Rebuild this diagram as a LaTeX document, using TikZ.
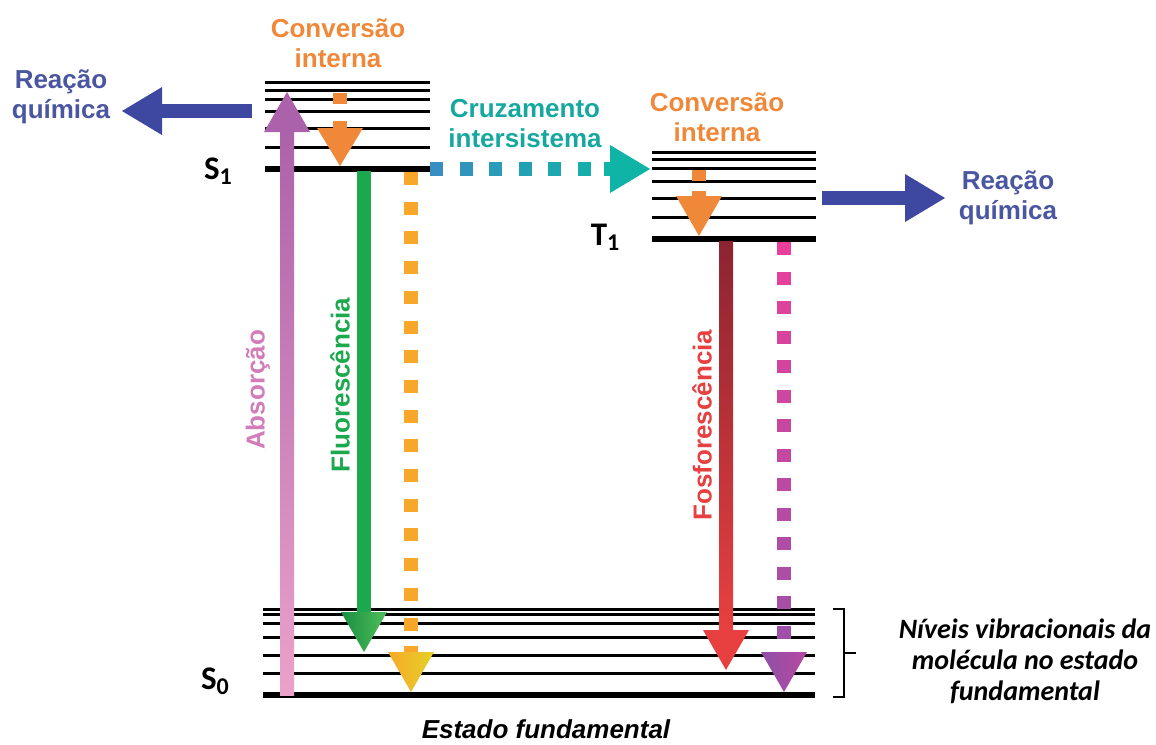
\documentclass[tikz,border=0pt]{standalone}
\usepackage{fontspec}
\setmainfont{Liberation Sans}
\newfontfamily\calibri{Carlito}
\usetikzlibrary{calc}

\definecolor{absTop}{RGB}{172,98,170}
\definecolor{absBot}{RGB}{234,162,202}
\definecolor{absText}{RGB}{210,125,185}
\definecolor{fluoGreen}{RGB}{28,168,76}
\definecolor{fluoLight}{RGB}{80,190,90}
\definecolor{icOrange}{RGB}{240,136,58}
\definecolor{dotOrange}{RGB}{247,168,42}
\definecolor{dotYellow}{RGB}{228,210,40}
\definecolor{iscBlue}{RGB}{54,142,194}
\definecolor{iscTeal}{RGB}{16,180,166}
\definecolor{iscText}{RGB}{22,168,158}
\definecolor{phosDark}{RGB}{140,36,48}
\definecolor{phosRed}{RGB}{232,64,64}
\definecolor{dotPink}{RGB}{232,64,154}
\definecolor{dotPurple}{RGB}{160,80,168}
\definecolor{headPurple}{RGB}{142,80,168}
\definecolor{headMagenta}{RGB}{184,72,160}
\definecolor{rxBlue}{RGB}{62,72,160}
\definecolor{rxText}{RGB}{74,86,160}

\newcommand{\sublbl}[1]{\raisebox{-2.5pt}{\fontsize{12}{12}\selectfont #1}}

\begin{document}
\begin{tikzpicture}[x=0.5pt, y=-0.5pt,
  level/.style={line width=1.5pt},
  ground/.style={line width=3pt},
  lbl/.style={font=\bfseries\fontsize{13}{15}\selectfont, align=center, inner sep=0pt},
  statelbl/.style={font=\calibri\bfseries\fontsize{16.5}{18}\selectfont, inner sep=0pt}
]
\useasboundingbox (0,0) rectangle (1156,744);

% vibrational levels of S1, T1 and S0
\foreach \y in {82,90,99,111,128,147} \draw[level] (265,\y) -- (430,\y);
\draw[ground] (265,169) -- (430,169);
\foreach \y in {152,159,168,181,198,217} \draw[level] (652,\y) -- (816,\y);
\draw[ground] (652,239) -- (816,239);
\foreach \y in {609,614,623,637,655,673} \draw[level] (263,\y) -- (815,\y);
\draw[ground] (263,695) -- (815,695);

\node[statelbl] (s1-lbl) at (218,171) {S\sublbl{1}};
\node[statelbl] (t1-lbl) at (605,237) {T\sublbl{1}};
\node[statelbl] (s0-lbl) at (215,681) {S\sublbl{0}};

% absorption
\coordinate (abs0) at (287,695);
\coordinate (abs1) at (287,92);
\shade[bottom color=absBot, top color=absTop] ($(abs0)+(-7,0)$) rectangle ($(abs1)+(7,40)$);
\fill[absTop] ($(abs1)+(-23,40)$) -- ($(abs1)+(23,40)$) -- (abs1) -- cycle;
\node[lbl, text=absText, rotate=90] (abs-txt) at (258,390) {Absorção};

% internal conversion in S1
\coordinate (ic1a) at (340,93);
\coordinate (ic1b) at (340,166);
\fill[icOrange] ($(ic1a)+(-7,0)$) rectangle ++(14,11);
\fill[icOrange] ($(ic1b)+(-7,-45)$) rectangle ($(ic1b)+(7,-38)$);
\fill[icOrange] ($(ic1b)+(-23,-38)$) -- ($(ic1b)+(23,-38)$) -- (ic1b) -- cycle;
\node[lbl, text=icOrange] (ic1-txt) at (338,43) {Conversão\\interna};

% fluorescence
\coordinate (flu0) at (364,171);
\coordinate (flu1) at (364,652);
\fill[fluoGreen] ($(flu0)+(-7,0)$) rectangle ($(flu1)+(7,-40)$);
\shade[left color=fluoGreen!85!black, right color=fluoLight] ($(flu1)+(-23,-40)$) -- ($(flu1)+(23,-40)$) -- (flu1) -- cycle;
\node[lbl, text=fluoGreen, rotate=90] (flu-txt) at (340,385) {Fluorescência};

% non-radiative decay S1 -> S0
\coordinate (orn0) at (411,172);
\coordinate (orn1) at (411,692);
\foreach \i in {0,...,15} \fill[dotOrange] ($(orn0)+(-7,29.7*\i)$) rectangle ++(14,13);
\fill[dotOrange] ($(orn1)+(-7,-46)$) rectangle ($(orn1)+(7,-40)$);
\shade[left color=dotOrange, right color=dotYellow] ($(orn1)+(-23,-40)$) -- ($(orn1)+(23,-40)$) -- (orn1) -- cycle;

% intersystem crossing
\coordinate (isc0) at (430,169);
\coordinate (isc1) at (650,169);
\foreach \i in {0,...,5}{
  \pgfmathtruncatemacro\p{100*\i/6}
  \fill[iscTeal!\p!iscBlue] ($(isc0)+(29.5*\i,-7)$) rectangle ++(13,14);
}
\fill[iscTeal] ($(isc1)+(-46,-7)$) rectangle ($(isc1)+(-40,7)$);
\fill[iscTeal] ($(isc1)+(-40,-24)$) -- ($(isc1)+(-40,24)$) -- (isc1) -- cycle;
\node[lbl, text=iscText] (isc-txt) at (525,124) {Cruzamento\\intersistema};

% internal conversion in T1
\coordinate (ic2a) at (699,170);
\coordinate (ic2b) at (699,236);
\fill[icOrange] ($(ic2a)+(-7,0)$) rectangle ++(14,11);
\fill[icOrange] ($(ic2b)+(-7,-45)$) rectangle ($(ic2b)+(7,-40)$);
\fill[icOrange] ($(ic2b)+(-23,-40)$) -- ($(ic2b)+(23,-40)$) -- (ic2b) -- cycle;
\node[lbl, text=icOrange] (ic2-txt) at (717,117) {Conversão\\interna};

% phosphorescence
\coordinate (pho0) at (726,241);
\coordinate (pho1) at (726,670);
\shade[top color=phosDark, bottom color=phosRed] ($(pho0)+(-7,0)$) rectangle ($(pho1)+(7,-40)$);
\fill[phosRed] ($(pho1)+(-23,-40)$) -- ($(pho1)+(23,-40)$) -- (pho1) -- cycle;
\node[lbl, text=phosRed, rotate=90] (pho-txt) at (702,425) {Fosforescência};

% non-radiative decay T1 -> S0
\coordinate (pnk0) at (784,242);
\coordinate (pnk1) at (784,692);
\foreach \i in {0,...,13}{
  \pgfmathtruncatemacro\p{100*\i/13}
  \fill[dotPurple!\p!dotPink] ($(pnk0)+(-7,29.5*\i)$) rectangle ++(14,13);
}
\shade[left color=headPurple, right color=headMagenta] ($(pnk1)+(-23,-40)$) -- ($(pnk1)+(23,-40)$) -- (pnk1) -- cycle;

% chemical reactions
\coordinate (rx1a) at (252,111);
\coordinate (rx1b) at (122,111);
\fill[rxBlue] ($(rx1a)+(0,-7)$) rectangle ($(rx1b)+(40,7)$);
\fill[rxBlue] ($(rx1b)+(40,-24)$) -- ($(rx1b)+(40,24)$) -- (rx1b) -- cycle;
\node[lbl, text=rxText] (rx1-txt) at (61,97) {Reação\\química};

\coordinate (rx2a) at (822,198);
\coordinate (rx2b) at (945,198);
\fill[rxBlue] ($(rx2a)+(0,-7)$) rectangle ($(rx2b)+(-40,7)$);
\fill[rxBlue] ($(rx2b)+(-40,-24)$) -- ($(rx2b)+(-40,24)$) -- (rx2b) -- cycle;
\node[lbl, text=rxText] (rx2-txt) at (1008,198) {Reação\\química};

% ground state
\draw[line width=1pt] (833,609) -| (844,653) -- (856,653) (844,653) |- (833,697);
\node[font=\calibri\bfseries\itshape\fontsize{14}{15.5}\selectfont, align=center] (vib-txt) at (1025,661) {Níveis vibracionais da\\molécula no estado\\fundamental};
\node[font=\bfseries\itshape\fontsize{13}{15}\selectfont, inner sep=0pt] (gs-txt) at (546,729) {Estado fundamental};
\end{tikzpicture}
\end{document}
